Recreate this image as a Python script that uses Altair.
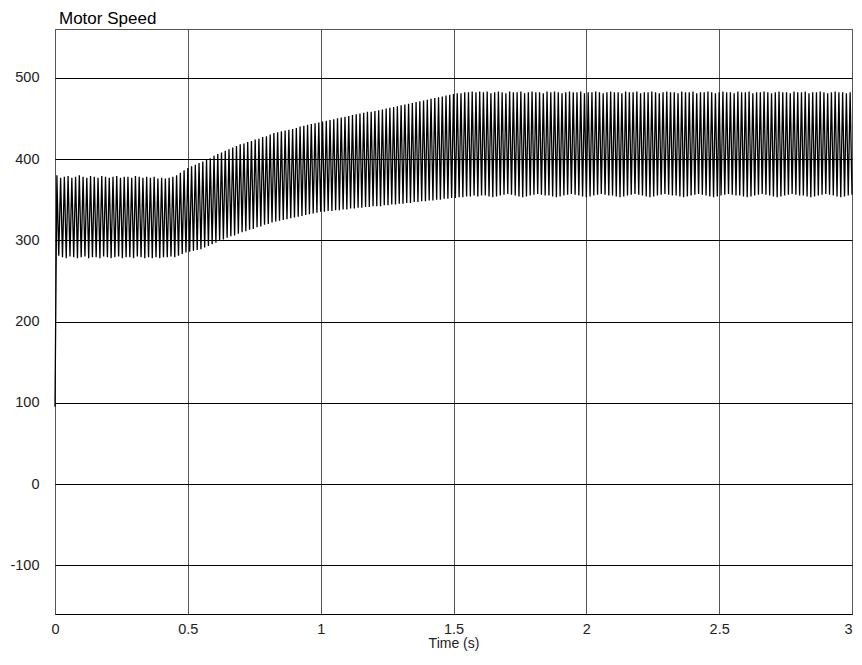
import altair as alt
import pandas as pd

# ---- data ----
X_TICKS = [0, 0.5, 1, 1.5, 2, 2.5, 3]
Y_TICKS = [-100, 0, 100, 200, 300, 400, 500]
T_END = 3.0
START_VALUE = 95  # first sample at t = 0

# successive oscillation maxima (one per cycle)
PEAKS = [
    380, 377, 378, 379, 377, 378, 380, 378, 377, 379,
    378, 377, 379, 378, 377, 378, 379, 377, 378, 378,
    377, 379, 378, 377, 378, 377, 378, 376, 377, 376,
    377, 378,
    380, 383, 386, 389,
    391, 393, 395, 397,
    399, 401, 404,
    406, 408, 410, 412, 414, 416, 418,
    419, 421, 422, 424, 425, 427, 428, 430, 432,
    433, 434, 435, 436, 437, 438, 440, 441, 442, 443, 444, 445,
    446, 447, 448, 449, 450, 451, 452, 453, 454, 455, 456, 457, 458, 458, 459, 460, 461, 462,
    463, 464, 465, 466, 467, 468, 469, 470, 471, 472, 473, 474, 475, 476, 477, 478, 479, 480,
    481, 481, 482, 482, 483, 482, 483,
    482, 483, 481, 482, 483, 482, 481, 483, 482, 482,
    483, 481, 482, 483, 482, 482, 481, 483, 482, 483,
    482, 481, 482, 483, 482, 482, 483, 481, 482, 482,
    483, 482, 481, 482, 483, 482, 482, 481, 483, 482,
    482, 483, 481, 482, 482, 483, 482, 481, 482, 483,
    482, 482, 481, 483, 482, 482, 483, 481, 482, 482,
    483, 482, 481, 482, 483, 482, 482, 481, 483, 482,
    482, 483, 481, 482, 482, 483, 482, 481, 482, 483,
    482, 482, 481, 483, 482, 482, 483, 481, 482, 482,
    483, 482, 481, 482, 483, 482, 482, 481, 482,
]

# successive oscillation minima (one per cycle)
TROUGHS = [
    281, 279, 278, 280, 279, 278, 279, 280, 278, 279,
    279, 278, 280, 279, 278, 279, 280, 278, 279, 279,
    278, 280, 279, 278, 279, 278, 279, 278, 279, 279,
    280, 279,
    281, 283, 285, 286,
    287, 288, 289, 291,
    293, 295, 297,
    299, 301, 303, 305, 306, 308, 310,
    311, 313, 314, 316, 317, 319, 320, 322, 323,
    324, 325, 326, 327, 328, 329, 330, 331, 332, 333, 334, 335,
    335, 336, 336, 337, 337, 338, 338, 339, 339, 340, 340, 341, 341, 342, 342, 342, 343, 343,
    344, 344, 345, 345, 346, 346, 347, 347, 348, 348, 349, 349, 350, 350, 351, 351, 352, 352,
    353, 353, 354, 354, 355, 354, 355,
    355, 354, 353, 354, 355, 356, 357, 356, 355, 354,
    353, 354, 355, 356, 357, 356, 355, 355, 354, 353,
    354, 355, 356, 357, 356, 355, 354, 353, 354, 355,
    356, 357, 356, 355, 355, 354, 353, 354, 355, 356,
    357, 356, 355, 354, 353, 354, 355, 356, 357, 356,
    355, 355, 354, 353, 354, 355, 356, 357, 356, 355,
    354, 353, 354, 355, 356, 357, 356, 355, 355, 354,
    353, 354, 355, 356, 357, 356, 355, 354, 353, 354,
    355, 356, 357, 356, 355, 355, 354, 353, 354, 355,
    356, 357, 356, 355, 354, 353, 354, 355, 356,
]

assert len(PEAKS) == len(TROUGHS)

# sampled signal: start value, then alternating max / min, evenly spaced samples
speed = [START_VALUE]
for p, q in zip(PEAKS, TROUGHS):
    speed.append(p)
    speed.append(q)
n_steps = len(speed) - 1
sample_period = T_END / n_steps
times = [i * sample_period for i in range(len(speed))]

df = pd.DataFrame({"t": times, "speed": speed})

FONT = "Liberation Sans"

chart = (
    alt.Chart(df)
    .mark_line(color="black", strokeWidth=1.3)
    .encode(
        x=alt.X(
            "t:Q",
            scale=alt.Scale(domain=[0, 3], nice=False, zero=False),
            axis=alt.Axis(
                values=X_TICKS,
                title="Time (s)",
                grid=True,
                gridColor="#555555",
                gridWidth=1,
                domain=True,
                domainColor="black",
                domainWidth=1,
                ticks=False,
                labelPadding=8,
                labelFont=FONT,
                labelFontSize=14.5,
                labelColor="#222222",
                labelExpr="'' + datum.value",
                labelAlign=alt.expr("datum.value >= 3 ? 'right' : 'center'"),
                titleFont=FONT,
                titleFontSize=14,
                titleFontWeight="normal",
                titleColor="#222222",
                titlePadding=1,
            ),
        ),
        y=alt.Y(
            "speed:Q",
            scale=alt.Scale(domain=[-160, 560], nice=False, zero=False),
            axis=alt.Axis(
                values=Y_TICKS,
                title=None,
                grid=True,
                gridColor="black",
                gridWidth=1,
                domain=False,
                ticks=False,
                labelPadding=16,
                labelFont=FONT,
                labelFontSize=14.5,
                labelColor="#222222",
                labelExpr="'' + datum.value",
            ),
        ),
    )
    .properties(
        width=797,
        height=585,
        padding={"left": 47, "top": 21, "right": 2, "bottom": 37},
        autosize=alt.AutoSizeParams(type="none"),
        title=alt.TitleParams(
            "Motor Speed",
            anchor="start",
            frame="group",
            dx=4,
            font=FONT,
            fontSize=17,
            fontWeight="normal",
            color="black",
            offset=1,
        ),
    )
    .configure_view(stroke="#555555", strokeWidth=1)
)

chart.save("out.html", embed_options={"renderer": "svg", "actions": False})
